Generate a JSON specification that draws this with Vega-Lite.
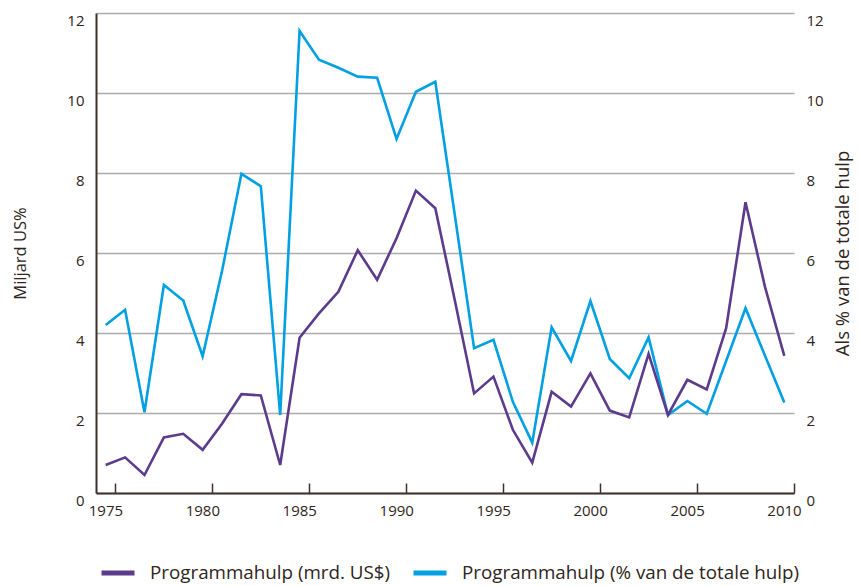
{
  "$schema": "https://vega.github.io/schema/vega-lite/v6.json",
  "autosize": {"type": "none"},
  "width": 698,
  "height": 480,
  "padding": {"left": 96, "top": 13, "right": 65, "bottom": 93},
  "config": {
    "font": "Open Sans",
    "view": {"stroke": null},
    "axis": {"labelColor": "#2e2420", "titleColor": "#2e2420", "labelFont": "Open Sans", "titleFont": "Open Sans", "titleFontWeight": "normal"}
  },
  "data": {
    "values": [
      {"year": 1974.5, "series": "Programmahulp (mrd. US$)", "value": 0.7},
      {"year": 1975.5, "series": "Programmahulp (mrd. US$)", "value": 0.89},
      {"year": 1976.5, "series": "Programmahulp (mrd. US$)", "value": 0.45},
      {"year": 1977.5, "series": "Programmahulp (mrd. US$)", "value": 1.39},
      {"year": 1978.5, "series": "Programmahulp (mrd. US$)", "value": 1.48},
      {"year": 1979.5, "series": "Programmahulp (mrd. US$)", "value": 1.08},
      {"year": 1980.5, "series": "Programmahulp (mrd. US$)", "value": 1.73},
      {"year": 1981.5, "series": "Programmahulp (mrd. US$)", "value": 2.47},
      {"year": 1982.5, "series": "Programmahulp (mrd. US$)", "value": 2.44},
      {"year": 1983.5, "series": "Programmahulp (mrd. US$)", "value": 0.7},
      {"year": 1984.5, "series": "Programmahulp (mrd. US$)", "value": 3.88},
      {"year": 1985.5, "series": "Programmahulp (mrd. US$)", "value": 4.49},
      {"year": 1986.5, "series": "Programmahulp (mrd. US$)", "value": 5.03},
      {"year": 1987.5, "series": "Programmahulp (mrd. US$)", "value": 6.07},
      {"year": 1988.5, "series": "Programmahulp (mrd. US$)", "value": 5.33},
      {"year": 1989.5, "series": "Programmahulp (mrd. US$)", "value": 6.37},
      {"year": 1990.5, "series": "Programmahulp (mrd. US$)", "value": 7.56},
      {"year": 1991.5, "series": "Programmahulp (mrd. US$)", "value": 7.12},
      {"year": 1992.5, "series": "Programmahulp (mrd. US$)", "value": 4.83},
      {"year": 1993.5, "series": "Programmahulp (mrd. US$)", "value": 2.49},
      {"year": 1994.5, "series": "Programmahulp (mrd. US$)", "value": 2.91},
      {"year": 1995.5, "series": "Programmahulp (mrd. US$)", "value": 1.58},
      {"year": 1996.5, "series": "Programmahulp (mrd. US$)", "value": 0.76},
      {"year": 1997.5, "series": "Programmahulp (mrd. US$)", "value": 2.53},
      {"year": 1998.5, "series": "Programmahulp (mrd. US$)", "value": 2.16},
      {"year": 1999.5, "series": "Programmahulp (mrd. US$)", "value": 2.99},
      {"year": 2000.5, "series": "Programmahulp (mrd. US$)", "value": 2.06},
      {"year": 2001.5, "series": "Programmahulp (mrd. US$)", "value": 1.89},
      {"year": 2002.5, "series": "Programmahulp (mrd. US$)", "value": 3.48},
      {"year": 2003.5, "series": "Programmahulp (mrd. US$)", "value": 1.95},
      {"year": 2004.5, "series": "Programmahulp (mrd. US$)", "value": 2.83},
      {"year": 2005.5, "series": "Programmahulp (mrd. US$)", "value": 2.59},
      {"year": 2006.5, "series": "Programmahulp (mrd. US$)", "value": 4.12},
      {"year": 2007.5, "series": "Programmahulp (mrd. US$)", "value": 7.27},
      {"year": 2008.5, "series": "Programmahulp (mrd. US$)", "value": 5.16},
      {"year": 2009.5, "series": "Programmahulp (mrd. US$)", "value": 3.43},
      {"year": 1974.5, "series": "Programmahulp (% van de totale hulp)", "value": 4.2},
      {"year": 1975.5, "series": "Programmahulp (% van de totale hulp)", "value": 4.58},
      {"year": 1976.5, "series": "Programmahulp (% van de totale hulp)", "value": 2.02},
      {"year": 1977.5, "series": "Programmahulp (% van de totale hulp)", "value": 5.2},
      {"year": 1978.5, "series": "Programmahulp (% van de totale hulp)", "value": 4.81},
      {"year": 1979.5, "series": "Programmahulp (% van de totale hulp)", "value": 3.42},
      {"year": 1980.5, "series": "Programmahulp (% van de totale hulp)", "value": 5.55},
      {"year": 1981.5, "series": "Programmahulp (% van de totale hulp)", "value": 7.98},
      {"year": 1982.5, "series": "Programmahulp (% van de totale hulp)", "value": 7.67},
      {"year": 1983.5, "series": "Programmahulp (% van de totale hulp)", "value": 1.95},
      {"year": 1984.5, "series": "Programmahulp (% van de totale hulp)", "value": 11.55},
      {"year": 1985.5, "series": "Programmahulp (% van de totale hulp)", "value": 10.83},
      {"year": 1986.5, "series": "Programmahulp (% van de totale hulp)", "value": 10.63},
      {"year": 1987.5, "series": "Programmahulp (% van de totale hulp)", "value": 10.41},
      {"year": 1988.5, "series": "Programmahulp (% van de totale hulp)", "value": 10.38},
      {"year": 1989.5, "series": "Programmahulp (% van de totale hulp)", "value": 8.85},
      {"year": 1990.5, "series": "Programmahulp (% van de totale hulp)", "value": 10.03},
      {"year": 1991.5, "series": "Programmahulp (% van de totale hulp)", "value": 10.28},
      {"year": 1992.5, "series": "Programmahulp (% van de totale hulp)", "value": 6.97},
      {"year": 1993.5, "series": "Programmahulp (% van de totale hulp)", "value": 3.62},
      {"year": 1994.5, "series": "Programmahulp (% van de totale hulp)", "value": 3.83},
      {"year": 1995.5, "series": "Programmahulp (% van de totale hulp)", "value": 2.28},
      {"year": 1996.5, "series": "Programmahulp (% van de totale hulp)", "value": 1.26},
      {"year": 1997.5, "series": "Programmahulp (% van de totale hulp)", "value": 4.14},
      {"year": 1998.5, "series": "Programmahulp (% van de totale hulp)", "value": 3.3},
      {"year": 1999.5, "series": "Programmahulp (% van de totale hulp)", "value": 4.8},
      {"year": 2000.5, "series": "Programmahulp (% van de totale hulp)", "value": 3.35},
      {"year": 2001.5, "series": "Programmahulp (% van de totale hulp)", "value": 2.87},
      {"year": 2002.5, "series": "Programmahulp (% van de totale hulp)", "value": 3.89},
      {"year": 2003.5, "series": "Programmahulp (% van de totale hulp)", "value": 1.95},
      {"year": 2004.5, "series": "Programmahulp (% van de totale hulp)", "value": 2.3},
      {"year": 2005.5, "series": "Programmahulp (% van de totale hulp)", "value": 1.98},
      {"year": 2006.5, "series": "Programmahulp (% van de totale hulp)", "value": 3.3},
      {"year": 2007.5, "series": "Programmahulp (% van de totale hulp)", "value": 4.62},
      {"year": 2008.5, "series": "Programmahulp (% van de totale hulp)", "value": 3.44},
      {"year": 2009.5, "series": "Programmahulp (% van de totale hulp)", "value": 2.26}
    ]
  },
  "encoding": {
    "x": {
      "field": "year", "type": "quantitative",
      "scale": {"domain": [1974, 2010], "nice": false, "zero": false},
      "axis": {
        "title": null, "values": [1975, 1980, 1985, 1990, 1995, 2000, 2005, 2010], "format": "d",
        "grid": false, "domainColor": "#3d302a", "domainWidth": 2, "tickColor": "#3d302a", "tickWidth": 1.5,
        "tickSize": -10, "labelPadding": 20, "labelFontSize": 15, "labelOffset": -10, "labelFlush": false
      }
    },
    "color": {
      "field": "series", "type": "nominal",
      "scale": {"domain": ["Programmahulp (mrd. US$)", "Programmahulp (% van de totale hulp)"], "range": ["#5c3a8c", "#00a0e2"]},
      "legend": {
        "title": null, "orient": "none", "direction": "horizontal", "legendX": 3, "legendY": 541,
        "symbolType": "stroke", "symbolSize": 1089, "symbolStrokeWidth": 5, "labelFontSize": 18.8, "labelColor": "#2e2420",
        "labelOffset": 13, "columnPadding": 12, "labelLimit": 400
      }
    }
  },
  "layer": [
    {
      "transform": [{"filter": "datum.series === 'Programmahulp (% van de totale hulp)'"}],
      "mark": {"type": "line", "strokeWidth": 2.6},
      "encoding": {
        "y": {
          "field": "value", "type": "quantitative",
          "scale": {"domain": [0, 12], "nice": false},
          "axis": {
            "orient": "right", "title": "Als % van de totale hulp", "titleFontSize": 18.5, "titlePadding": 29, "titleAngle": -90,
            "values": [0, 2, 4, 6, 8, 10, 12], "grid": false, "domain": false, "ticks": false,
            "labelPadding": 12, "labelFontSize": 15, "labelOffset": 7
          }
        }
      }
    },
    {
      "transform": [{"filter": "datum.series === 'Programmahulp (mrd. US$)'"}],
      "mark": {"type": "line", "strokeWidth": 2.6},
      "encoding": {
        "y": {
          "field": "value", "type": "quantitative",
          "scale": {"domain": [0, 12], "nice": false},
          "axis": {
            "orient": "left", "title": "Miljard US%", "titleFontSize": 16.5, "titlePadding": 38,
            "values": [0, 2, 4, 6, 8, 10, 12], "grid": true, "gridColor": "#ababab", "gridWidth": 1.5,
            "domain": true, "domainColor": "#3d302a", "domainWidth": 2, "ticks": false,
            "labelPadding": 12, "labelFontSize": 15, "labelOffset": 7
          }
        }
      }
    }
  ],
  "resolve": {"scale": {"y": "independent"}}
}
